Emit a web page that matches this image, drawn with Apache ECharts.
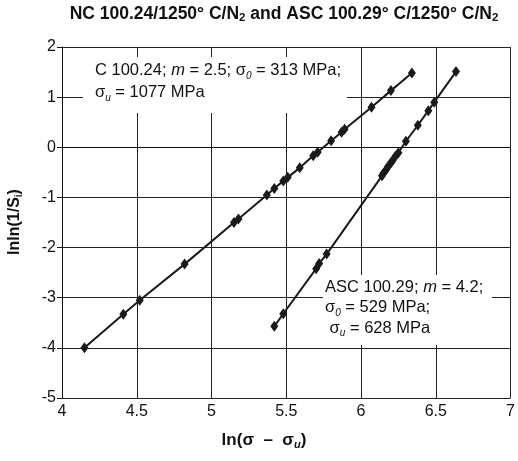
<!DOCTYPE html>
<html><head><meta charset="utf-8">
<script src="https://cdn.jsdelivr.net/npm/echarts@6/dist/echarts.min.js"></script>
<style>html,body{margin:0;padding:0;background:#fff}#c{width:518px;height:461px}</style>
</head><body><div id="c"></div>
<script>
// NC (C 100.24) data: ln(sigma - sigma_u) vs lnln(1/S)
const ncX = [4.15, 4.41, 4.52, 4.82, 5.15, 5.18, 5.37, 5.42, 5.48, 5.51, 5.59, 5.68, 5.71, 5.80, 5.87, 5.89, 6.07, 6.20, 6.34];
const ncY = [-4.00, -3.33, -3.05, -2.33, -1.50, -1.43, -0.95, -0.82, -0.67, -0.60, -0.41, -0.17, -0.10, 0.13, 0.30, 0.36, 0.80, 1.13, 1.48];
// ASC 100.29 data
const ascX = [5.42, 5.48, 5.70, 5.72, 5.77, 6.14, 6.15, 6.17, 6.18, 6.20, 6.21, 6.23, 6.25, 6.30, 6.38, 6.45, 6.49, 6.635];
const ascY = [-3.57, -3.32, -2.42, -2.32, -2.13, -0.57, -0.52, -0.44, -0.39, -0.31, -0.27, -0.18, -0.11, 0.12, 0.44, 0.73, 0.90, 1.51];
const xTicks = [4, 4.5, 5, 5.5, 6, 6.5, 7];
const yTicks = [-5, -4, -3, -2, -1, 0, 1, 2];

const pairs = (xs, ys) => xs.map((x, i) => [x, ys[i]]);
const FONT = 'Liberation Sans, Arial, sans-serif';
const chart = echarts.init(document.getElementById('c'));
chart.setOption({
  animation: false,
  backgroundColor: '#fff',
  grid: {left: 62, right: 1, top: 47, bottom: 63},
  xAxis: {
    type: 'value', min: xTicks[0], max: xTicks[xTicks.length - 1], interval: 0.5,
    axisLine: {show: true, lineStyle: {color: '#111', width: 1}},
    axisTick: {show: true, length: 5, lineStyle: {color: '#111'}},
    axisLabel: {color: '#111', fontSize: 16, fontFamily: FONT, margin: 6},
    splitLine: {show: true, lineStyle: {color: '#222', width: 1}}
  },
  yAxis: {
    type: 'value', min: yTicks[0], max: yTicks[yTicks.length - 1], interval: 1,
    axisLine: {show: true, lineStyle: {color: '#111', width: 1}},
    axisTick: {show: true, length: 5, lineStyle: {color: '#111'}},
    axisLabel: {color: '#111', fontSize: 16, fontFamily: FONT, margin: 6},
    splitLine: {show: true, lineStyle: {color: '#222', width: 1}}
  },
  graphic: [
    {type: 'text', x: 284, y: 14, z: 100, style: {
      text: '{b|NC 100.24/1250° C/N}{s|2}{b| and ASC 100.29° C/1250° C/N}{s|2}',
      align: 'center', verticalAlign: 'middle',
      rich: {b: {fontSize: 17.5, fontWeight: 'bold', fontFamily: FONT, lineHeight: 20, fill: '#111'},
             s: {fontSize: 11.5, fontWeight: 'bold', fontFamily: FONT, verticalAlign: 'bottom', lineHeight: 18, fill: '#111'}}
    }},
    {type: 'text', x: 15, y: 222, rotation: Math.PI / 2, z: 100, style: {
      text: '{b|lnln(1/S}{s|i}{b|)}', align: 'center', verticalAlign: 'middle',
      rich: {b: {fontSize: 16, fontWeight: 'bold', fontFamily: FONT, lineHeight: 19, fill: '#111'},
             s: {fontSize: 10, fontWeight: 'bold', fontFamily: FONT, verticalAlign: 'bottom', lineHeight: 18, fill: '#111'}}
    }},
    {type: 'text', x: 264, y: 440, z: 100, style: {
      text: '{b|ln(σ  –  σ}{i|u}{b|)}', align: 'center', verticalAlign: 'middle',
      rich: {b: {fontSize: 17, fontWeight: 'bold', fontFamily: FONT, lineHeight: 20, fill: '#111'},
             i: {fontSize: 11, fontWeight: 'bold', fontStyle: 'italic', fontFamily: FONT, verticalAlign: 'bottom', lineHeight: 19, fill: '#111'}}
    }},
    {type: 'rect', z: 50, shape: {x: 83, y: 57, width: 264, height: 56}, style: {fill: '#fff'}},
    {type: 'text', x: 95, y: 59, z: 100, style: {
      text: '{t|C 100.24; }{it|m}{t| = 2.5; σ}{si|0}{t| = 313 MPa;}\n{t|σ}{si|u}{t| = 1077 MPa}',
      rich: {t: {fontSize: 16.5, fontFamily: FONT, lineHeight: 22, fill: '#111'},
             it: {fontSize: 16.5, fontStyle: 'italic', fontFamily: FONT, lineHeight: 22, fill: '#111'},
             si: {fontSize: 10, fontStyle: 'italic', fontFamily: FONT, verticalAlign: 'bottom', lineHeight: 21, fill: '#111'}}
    }},
    {type: 'rect', z: 50, shape: {x: 323, y: 275, width: 169, height: 70}, style: {fill: '#fff'}},
    {type: 'text', x: 325, y: 277, z: 100, style: {
      text: '{t|ASC 100.29; }{it|m}{t| = 4.2;}\n{t|σ}{si|0}{t| = 529 MPa;}\n{t| σ}{si|u}{t| = 628 MPa}',
      rich: {t: {fontSize: 16.5, fontFamily: FONT, lineHeight: 20.5, fill: '#111'},
             it: {fontSize: 16.5, fontStyle: 'italic', fontFamily: FONT, lineHeight: 20.5, fill: '#111'},
             si: {fontSize: 10, fontStyle: 'italic', fontFamily: FONT, verticalAlign: 'bottom', lineHeight: 19.5, fill: '#111'}}
    }}
  ],
  series: [
    {type: 'line', data: pairs(ncX, ncY), symbol: 'diamond', symbolSize: [8, 11], showAllSymbol: true,
     lineStyle: {color: '#1a1a1a', width: 2}, itemStyle: {color: '#1a1a1a'}, z: 10},
    {type: 'line', data: pairs(ascX, ascY), symbol: 'diamond', symbolSize: [8, 11], showAllSymbol: true,
     lineStyle: {color: '#1a1a1a', width: 2}, itemStyle: {color: '#1a1a1a'}, z: 10}
  ]
});
</script></body></html>
